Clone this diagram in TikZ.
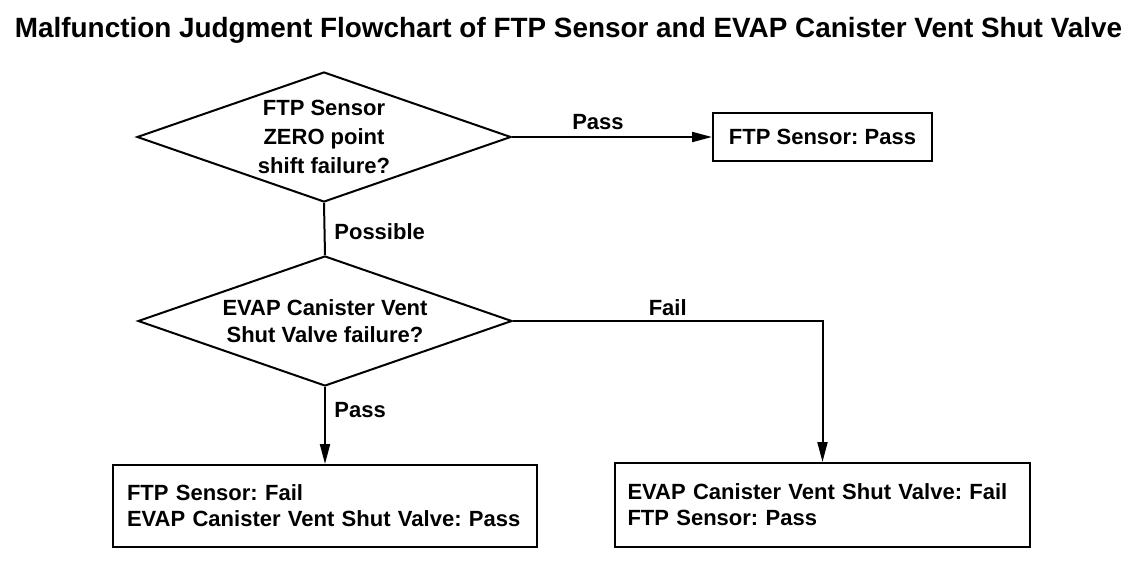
\documentclass[tikz,border=0pt]{standalone}
\usepackage{fontspec}
\usepackage{graphicx}
\setmainfont{Liberation Sans}
\usetikzlibrary{shapes.geometric,arrows.meta}
\frenchspacing
\begin{document}
\begin{tikzpicture}[x=0.5pt,y=-0.5pt,
  every node/.style={font=\fontsize{11pt}{13pt}\selectfont\bfseries},
  decision/.style={draw, line width=1pt, shape=diamond, inner sep=0pt, minimum width=187pt, minimum height=65pt},
  result/.style={draw, line width=1pt, inner sep=0pt},
  arr/.style={line width=1pt, -{Triangle[length=10pt,width=5pt]}},
  conn/.style={line width=1pt},
  lbl/.style={inner sep=0pt}]
\useasboundingbox (0,0) rectangle (1136,562);
\node[inner sep=0pt, anchor=base] (title) at (568.5,38) {\resizebox{553.5pt}{10.1pt}{\bfseries Malfunction Judgment Flowchart of FTP Sensor and EVAP Canister Vent Shut Valve}};
\node[decision] (d1) at (324,137) {};
\node[align=center, font=\fontsize{11pt}{14.5pt}\selectfont\bfseries] (t1) at (d1.center) {FTP Sensor\\ZERO point\\shift failure?};
\node[decision] (d2) at (325,321) {};
\node[align=center, font=\fontsize{11pt}{13.5pt}\selectfont\bfseries] (t2) at (d2.center) {EVAP Canister Vent\\Shut Valve failure?};
\node[result, minimum width=109.5pt, minimum height=24pt] (b1) at (822.5,137) {FTP Sensor: Pass};
\node[result, align=left, text width=198pt, inner xsep=7pt, minimum height=41pt] (b2) at (325,506) {FTP Sensor: Fail\\EVAP Canister Vent Shut Valve: Pass};
\node[result, align=left, text width=195pt, inner xsep=6.25pt, minimum height=42pt] (b3) at (822.5,505) {EVAP Canister Vent Shut Valve: Fail\\FTP Sensor: Pass};
\draw[arr] (d1.east) -- node[lbl, above=3pt, pos=0.43] (lpass1) {Pass} (b1.west);
\draw[conn] (d1.south) -- (d2.north);
\node[lbl, anchor=west] (lposs) at (334,232) {Possible};
\draw[arr] (d2.south) -- (b2.north);
\node[lbl, anchor=west] (lpass2) at (334,410) {Pass};
\draw[arr] (d2.east) -| node[lbl, above=2pt, pos=0.25] (lfail) {Fail} (b3.north);
\end{tikzpicture}
\end{document}
